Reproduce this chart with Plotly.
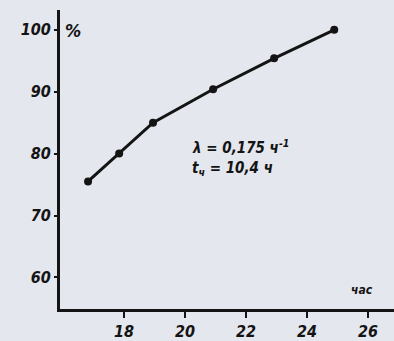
import plotly.graph_objects as go

hours = [16.82, 17.84, 18.95, 20.92, 22.92, 24.89]
percent = [75.5, 80.0, 85.0, 90.4, 95.4, 100.0]
x_ticks = [18, 20, 22, 24, 26]
y_ticks = [60, 70, 80, 90, 100]
y_unit = "%"
x_unit = "час"
note_line1 = "λ = 0,175 ч<sup>-1</sup>"
note_line2 = "t<sub>ч</sub> = 10,4 ч"

BG = "#e5e7ef"
INK = "#141414"
FONT = "DejaVu Sans Condensed, DejaVu Sans, Liberation Sans Narrow, sans-serif"

fig = go.Figure()
fig.add_trace(go.Scatter(
    x=hours, y=percent, mode="lines+markers",
    line=dict(color=INK, width=3),
    marker=dict(color=INK, size=8),
    showlegend=False, hoverinfo="skip",
))

fig.update_layout(
    width=394, height=341,
    margin=dict(l=60, r=0, t=10, b=28),
    paper_bgcolor=BG, plot_bgcolor=BG,
    font=dict(family=FONT, color=INK, size=16, style="italic", weight="bold"),
    xaxis=dict(
        range=[15.9, 26.85], tickvals=x_ticks, ticktext=[str(v) for v in x_ticks],
        showgrid=False, zeroline=False, showline=True, linecolor=INK, linewidth=2.5,
        ticks="outside", ticklen=6, tickwidth=2, tickcolor=INK,
        tickfont=dict(family=FONT, size=16, color=INK, style="italic", weight="bold"),
    ),
    yaxis=dict(
        range=[54.9, 103.2], tickvals=y_ticks, ticktext=[str(v) for v in y_ticks],
        showgrid=False, zeroline=False, showline=True, linecolor=INK, linewidth=3,
        ticks="outside", ticklen=3, tickwidth=2, tickcolor=INK,
        tickfont=dict(family=FONT, size=16, color=INK, style="italic", weight="bold"),
    ),
)

fig.add_annotation(xref="paper", yref="paper", x=0.01, y=0.93, text=y_unit,
                   showarrow=False, xanchor="left", yanchor="middle",
                   font=dict(family=FONT, size=18, color=INK, style="italic", weight="bold"))
fig.add_annotation(xref="x", yref="y", x=25.8, y=58.0, text=x_unit,
                   showarrow=False, xanchor="center", yanchor="middle",
                   font=dict(family=FONT, size=12, color=INK, style="italic", weight="bold"))
fig.add_annotation(xref="x", yref="y", x=20.15, y=81.0, text=note_line1,
                   showarrow=False, xanchor="left", yanchor="middle",
                   font=dict(family=FONT, size=15, color=INK, style="italic", weight="bold"))
fig.add_annotation(xref="x", yref="y", x=20.15, y=77.6, text=note_line2,
                   showarrow=False, xanchor="left", yanchor="middle",
                   font=dict(family=FONT, size=15, color=INK, style="italic", weight="bold"))

fig.write_html("out.html")
